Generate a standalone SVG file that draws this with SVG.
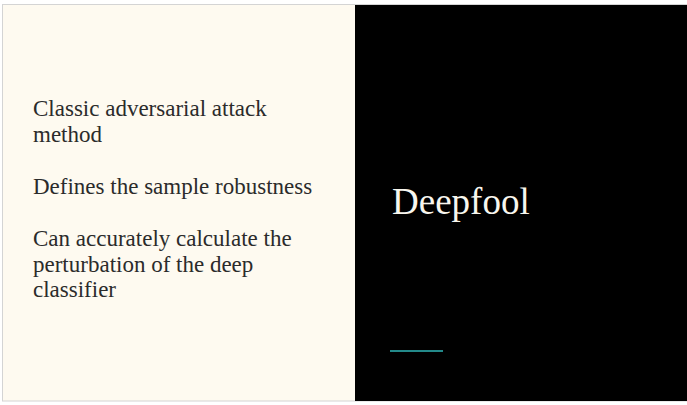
<svg xmlns="http://www.w3.org/2000/svg" width="687" height="405" viewBox="0 0 687 405">
<style>
.body{font-family:"Liberation Serif","DejaVu Serif",serif;font-size:23px;fill:#2b2b2b}
.title{font-family:"Liberation Serif","DejaVu Serif",serif;font-size:37px;fill:#f8f6ee}
</style>
<rect x="0" y="0" width="687" height="405" fill="#ffffff"/>
<g id="slide">
<rect x="2.5" y="4.5" width="690" height="396.5" fill="#fefaf0" stroke="#d4d4d4" stroke-width="1"/>
<rect x="355" y="5" width="332" height="396" fill="#000000"/>
</g>
<g id="bullets">
<text class="body" x="33" y="116">Classic adversarial attack</text>
<text class="body" x="33" y="142">method</text>
<text class="body" x="33" y="193.5">Defines the sample robustness</text>
<text class="body" x="33" y="245.5">Can accurately calculate the</text>
<text class="body" x="33" y="271.5">perturbation of the deep</text>
<text class="body" x="33" y="297">classifier</text>
</g>
<g id="title">
<text class="title" x="392" y="214">Deepfool</text>
</g>
<g id="accent">
<rect x="390" y="350" width="53" height="2" fill="#23898a"/>
</g>
</svg>
